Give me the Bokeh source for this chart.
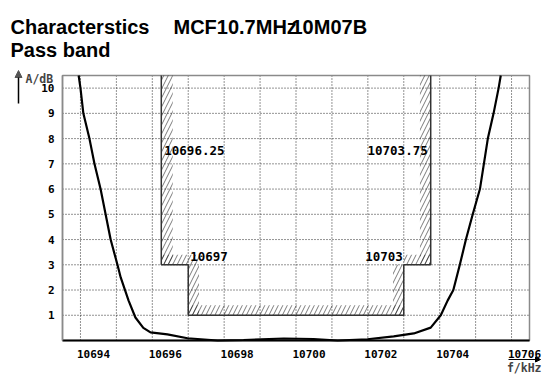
from bokeh.plotting import figure
from bokeh.models import (Range1d, FixedTicker, CustomJSTickFormatter, Label,
                          Arrow, NormalHead, LinearAxis)
from bokeh.embed import file_html
from bokeh.resources import INLINE

# ---- data ----
freq_khz = [10693.95, 10694.0, 10694.08, 10694.25, 10694.39, 10694.56, 10694.7,
            10694.84, 10695.03, 10695.12, 10695.34, 10695.53, 10695.75, 10695.95,
            10696.42, 10696.98, 10697.82, 10698.54, 10699.66, 10700.49, 10701.16,
            10701.99, 10702.72, 10703.28, 10703.75, 10704.03, 10704.22, 10704.38,
            10704.56, 10704.73, 10704.92, 10705.12, 10705.23, 10705.34, 10705.5,
            10705.64, 10705.7]
atten_db = [10.5, 10.0, 9.0, 8.0, 7.0, 6.0, 5.0, 4.0, 3.0, 2.5, 1.58, 0.91, 0.5,
            0.32, 0.24, 0.09, 0.0, 0.02, 0.08, 0.06, 0.0, 0.05, 0.16, 0.28, 0.51,
            1.0, 1.58, 2.0, 3.0, 4.0, 5.0, 6.0, 7.0, 8.0, 9.0, 10.0, 10.5]

# tolerance mask outline
mask_f = [10696.25, 10696.25, 10697, 10697, 10703, 10703, 10703.75, 10703.75]
mask_a = [10.5, 3, 3, 1, 1, 3, 3, 10.5]

# hatched strips of the mask
strip_left = [10696.25, 10696.25, 10697.0, 10697.0, 10702.7, 10703.0, 10703.45]
strip_right = [10696.57, 10697.0, 10697.3, 10703.0, 10703.0, 10703.75, 10703.75]
strip_bottom = [3.0, 3.0, 1.0, 1.0, 1.0, 3.0, 3.0]
strip_top = [10.5, 3.4, 3.4, 1.4, 3.0, 3.4, 10.5]

mask_labels = ["10696.25", "10703.75", "10697", "10703"]

x_ticks = [10694, 10696, 10698, 10700, 10702, 10704, 10706]
x_grid = list(range(10694, 10707))
y_ticks = list(range(1, 11))

X0, X1 = 10693.5, 10706.5     # plot area range (kHz)
Y0, Y1 = 0.0, 10.5            # plot area range (dB)
FL, FR, FT, FB = 62, 529, 75, 340   # plot area in pixels
W, H = 549, 378


def fx(px):
    return X0 + (px - FL) * (X1 - X0) / (FR - FL)


def fy(py):
    return Y0 + (FB - py) * (Y1 - Y0) / (FB - FT)


p = figure(width=W, height=H, output_backend="svg", toolbar_location=None,
           x_range=Range1d(fx(0), fx(W)), y_range=Range1d(fy(H), fy(0)),
           x_axis_location=None, y_axis_location=None,
           min_border=0, min_border_left=0, min_border_right=0,
           min_border_top=0, min_border_bottom=0)
p.title.visible = False
p.outline_line_color = None
p.background_fill_color = "white"
p.border_fill_color = "white"
for g in p.grid:
    g.visible = False

# dotted grid inside the plot area
p.segment(x0=x_grid, y0=[Y0] * len(x_grid), x1=x_grid, y1=[Y1] * len(x_grid),
          line_color="black", line_dash="1 2", line_width=1, line_alpha=0.85)
p.segment(x0=[X0] * len(y_ticks), y0=y_ticks, x1=[X1] * len(y_ticks), y1=y_ticks,
          line_color="black", line_dash="1 2", line_width=1, line_alpha=0.85)

# plot area border
p.quad(left=[X0], right=[X1], bottom=[Y0], top=[Y1], fill_alpha=0,
       line_color="#8a8a8a", line_width=1.5)

mono = "DejaVu Sans Mono"

# y axis
ya = LinearAxis(fixed_location=X0, bounds=(Y0, Y1), ticker=FixedTicker(ticks=y_ticks))
ya.axis_line_color = "#8a8a8a"
ya.axis_line_width = 1.5
ya.major_tick_line_color = None
ya.minor_tick_line_color = None
ya.major_tick_out = 0
ya.major_tick_in = 0
ya.major_label_standoff = 8
ya.major_label_text_font = mono
ya.major_label_text_font_style = "bold"
ya.major_label_text_font_size = "11px"
ya.major_label_text_color = "black"
p.add_layout(ya, "left")

# x axis (labels sit slightly right of their grid line)
shift = fx(FL + 13) - X0
xa = LinearAxis(fixed_location=Y0, bounds=(X0, X1),
                ticker=FixedTicker(ticks=[t + shift for t in x_ticks]))
xa.formatter = CustomJSTickFormatter(args=dict(s=shift),
                                     code="return String(Math.round(tick - s));")
xa.axis_line_color = "black"
xa.axis_line_width = 2
xa.major_tick_line_color = None
xa.minor_tick_line_color = None
xa.major_tick_out = 0
xa.major_tick_in = 0
xa.major_label_standoff = 9
xa.major_label_text_font = mono
xa.major_label_text_font_style = "bold"
xa.major_label_text_font_size = "11px"
xa.major_label_text_color = "black"
p.add_layout(xa, "below")

# hatched mask strips
p.quad(left=strip_left, right=strip_right, bottom=strip_bottom, top=strip_top,
       fill_alpha=0, line_color=None, hatch_pattern="/", hatch_color="black",
       hatch_scale=9, hatch_weight=0.8, hatch_alpha=0.65)
p.line(mask_f, mask_a, line_color="#333333", line_width=1.5)

# characteristic curve
p.line(freq_khz, atten_db, line_color="black", line_width=2.2)

# mask labels
lab_kw = dict(text_font=mono, text_font_style="bold", text_font_size="12.5px",
              text_color="black", text_baseline="middle")
p.add_layout(Label(x=mask_f[0], y=fy(150), x_offset=3, text=mask_labels[0],
                   text_align="left", **lab_kw))
p.add_layout(Label(x=mask_f[7], y=fy(150), x_offset=-3, text=mask_labels[1],
                   text_align="right", **lab_kw))
p.add_layout(Label(x=mask_f[2], y=fy(256), x_offset=2, text=mask_labels[2],
                   text_align="left", **lab_kw))
p.add_layout(Label(x=mask_f[4], y=fy(256), x_offset=-1, text=mask_labels[3],
                   text_align="right", **lab_kw))

# titles
t_kw = dict(text_font="Liberation Sans", text_font_style="bold",
            text_font_size="20px", text_color="black", text_baseline="alphabetic")
p.add_layout(Label(x=fx(10), y=fy(26), text="Characterstics", text_align="left", **t_kw))
p.add_layout(Label(x=fx(173), y=fy(26), text="MCF10.7MHz", text_align="left", **t_kw))
p.add_layout(Label(x=fx(291), y=fy(26), text="10M07B", text_align="left", **t_kw))
p.add_layout(Label(x=fx(10), y=fy(49), text="Pass band", text_align="left", **t_kw))

# axis names with arrows
p.add_layout(Arrow(x_start=fx(18), y_start=fy(103), x_end=fx(18), y_end=fy(70),
                   line_color="black", line_width=1.5,
                   end=NormalHead(size=7, fill_color="#555555", line_color="#555555")))
p.add_layout(Label(x=fx(25), y=fy(78), text="A/dB", text_align="left",
                   text_font=mono, text_font_style="bold", text_font_size="11.5px",
                   text_baseline="middle"))
p.add_layout(Arrow(x_start=fx(508), y_start=fy(359), x_end=fx(540), y_end=fy(359),
                   line_color="black", line_width=1.2,
                   end=NormalHead(size=5, fill_color="black", line_color="black")))
p.add_layout(Label(x=fx(541), y=fy(367), text="f/kHz", text_align="right",
                   text_font=mono, text_font_style="bold", text_font_size="11.5px",
                   text_baseline="middle"))

open("out.html", "w").write(file_html(p, INLINE))
